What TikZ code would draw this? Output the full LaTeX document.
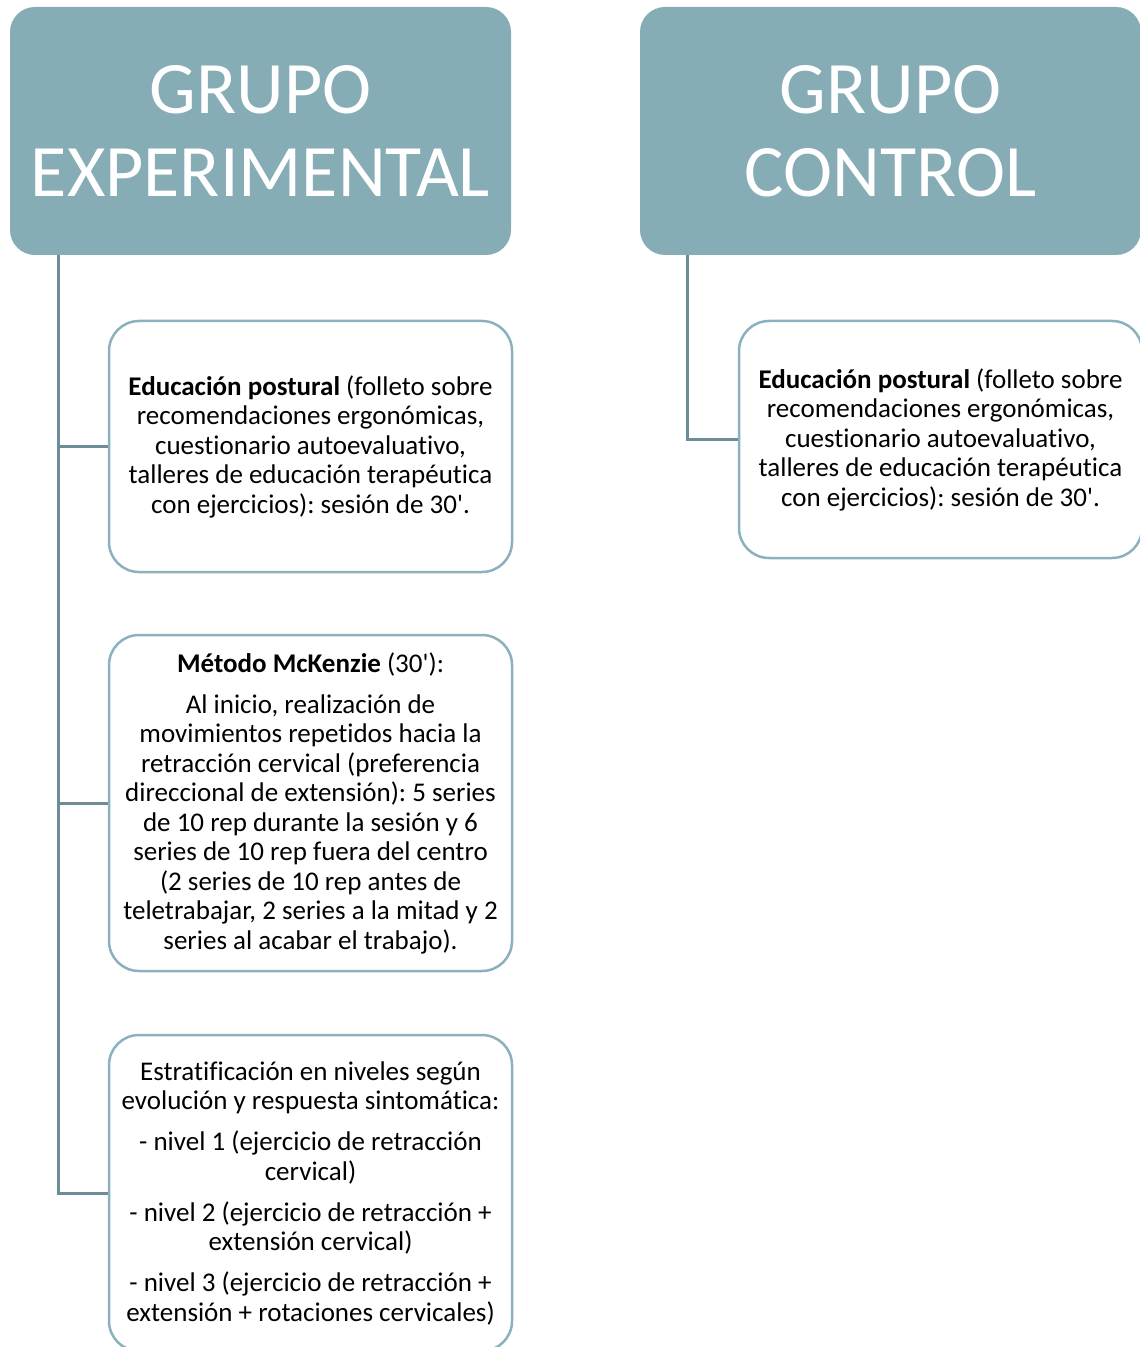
\documentclass[tikz,border=0pt]{standalone}
\usepackage{fontspec}
\setmainfont{Carlito}[Ligatures={TeX,NoCommon}]
\usepackage{tikz}
\usetikzlibrary{positioning}
\usepackage{xcolor}
\definecolor{headfill}{RGB}{134,172,182}
\definecolor{boxline}{RGB}{138,177,189}
\definecolor{linkline}{RGB}{108,141,151}
\frenchspacing

\begin{document}
\begin{tikzpicture}[node distance=2.4cm,on grid]
    \tikzstyle{head}=[shape=rectangle,rounded corners=12.5pt,fill=headfill,text=white,
      minimum width=250.5pt,minimum height=124pt,inner sep=0pt,align=center,
      font=\fontsize{37}{41.5}\selectfont]
    \tikzstyle{info}=[shape=rectangle,rounded corners=15pt,draw=boxline,line width=1.25pt,fill=white,
      minimum width=201.5pt,inner sep=2pt,align=center,font=\fontsize{13.5}{14.75}\selectfont]
    \tikzstyle{link}=[draw=linkline,line width=1.5pt]

    \useasboundingbox (0,0) rectangle (569.5pt,-673.5pt);

    \node[head] (GE) at (130.25pt,-65.5pt) {GRUPO\\EXPERIMENTAL};
    \node[head, right=315pt of GE] (GC) {GRUPO\\CONTROL};
    \node[info, minimum height=125.5pt, below right=157.75pt and 25pt of GE] (EP1)
      {\textbf{Educación postural} (folleto sobre\\
       recomendaciones ergonómicas,\\
       cuestionario autoevaluativo,\\
       talleres de educación terapéutica\\
       con ejercicios): sesión de 30\textquotesingle.};
    \node[info, minimum height=168pt, below=178.25pt of EP1] (MK)
      {\textbf{Método McKenzie} (30\textquotesingle):\\[5.75pt]
       Al inicio, realización de\\
       movimientos repetidos hacia la\\
       retracción cervical (preferencia\\
       direccional de extensión): 5 series\\
       de 10 rep durante la sesión y 6\\
       series de 10 rep fuera del centro\\
       (2 series de 10 rep antes de\\
       teletrabajar, 2 series a la mitad y 2\\
       series al acabar el trabajo).};
    \node[info, minimum height=158pt, below=195pt of MK] (NV)
      {Estratificación en niveles según\\
       evolución y respuesta sintomática:\\[5.75pt]
       - nivel 1 (ejercicio de retracción\\
       cervical)\\[5.75pt]
       - nivel 2 (ejercicio de retracción +\\
       extensión cervical)\\[5.75pt]
       - nivel 3 (ejercicio de retracción +\\
       extensión + rotaciones cervicales)};
    \node[info, minimum height=118.5pt, below right=154.25pt and 25pt of GC] (EP2)
      {\textbf{Educación postural} (folleto sobre\\
       recomendaciones ergonómicas,\\
       cuestionario autoevaluativo,\\
       talleres de educación terapéutica\\
       con ejercicios): sesión de 30\textquotesingle.};

    \coordinate (TL) at ([xshift=24.5pt]GE.south west);
    \coordinate (TR) at ([xshift=24pt]GC.south west);

    \draw[link] (TL) |- (EP1.west);
    \draw[link] (TL) |- (MK.west);
    \draw[link] (TL) |- (NV.west);
    \draw[link] (TR) |- (EP2.west);

\end{tikzpicture}
\end{document}
